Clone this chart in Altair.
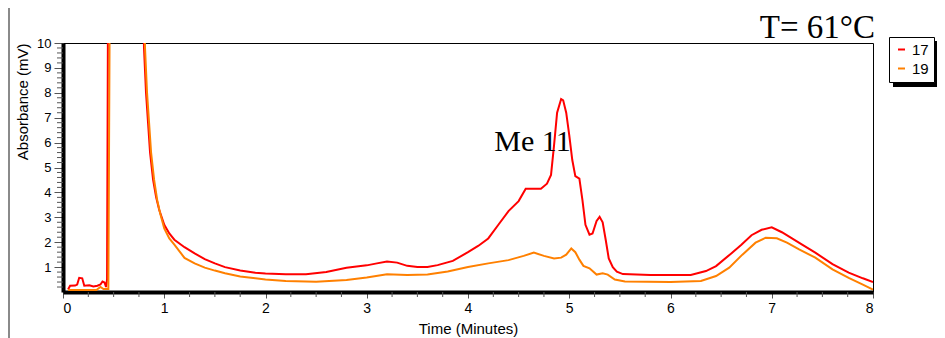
import altair as alt
import pandas as pd

# ---------------- data ----------------
red_t = [0.05, 0.07, 0.12, 0.14, 0.16, 0.19, 0.21, 0.26, 0.30, 0.34, 0.37, 0.39, 0.41, 0.425, 0.435, 0.445,
         0.79, 0.80, 0.82, 0.84, 0.86, 0.89, 0.92, 0.95, 1.0, 1.05, 1.1, 1.2, 1.3, 1.4, 1.5, 1.6, 1.75, 1.9,
         2.0, 2.2, 2.4, 2.6, 2.8, 2.9, 3.0, 3.1, 3.2, 3.3, 3.4, 3.5, 3.6, 3.7, 3.85, 4.0, 4.1, 4.2, 4.3, 4.4, 4.5,
         4.57, 4.65, 4.72, 4.78, 4.82, 4.85, 4.88, 4.92, 4.94, 4.97, 5.0, 5.03, 5.06, 5.1, 5.13, 5.16, 5.2,
         5.23, 5.27, 5.30, 5.33, 5.36, 5.39, 5.43, 5.47, 5.53, 5.8, 6.2, 6.35, 6.45, 6.6, 6.7, 6.8, 6.9, 7.0,
         7.1, 7.2, 7.3, 7.43, 7.6, 7.76, 7.9, 8.0]
red_v = [0.1, 0.25, 0.26, 0.3, 0.57, 0.55, 0.25, 0.27, 0.22, 0.25, 0.3, 0.42, 0.38, 0.2, 0.5, 12,
         12, 9.8, 8.0, 6.8, 5.6, 4.5, 3.8, 3.3, 2.7, 2.35, 2.1, 1.8, 1.55, 1.32, 1.15, 1.0, 0.86, 0.77,
         0.74, 0.71, 0.71, 0.8, 0.97, 1.02, 1.07, 1.15, 1.22, 1.18, 1.05, 1.0, 1.0, 1.08, 1.25, 1.6, 1.85, 2.15, 2.7, 3.25, 3.65,
         4.15, 4.15, 4.15, 4.35, 4.7, 5.9, 7.2, 7.75, 7.7, 7.2, 6.3, 5.3, 4.65, 4.55, 3.7, 2.7, 2.3,
         2.35, 2.85, 3.02, 2.8, 2.1, 1.35, 1.0, 0.82, 0.72, 0.68, 0.68, 0.84, 1.04, 1.55, 1.9, 2.28, 2.5, 2.6,
         2.4, 2.15, 1.9, 1.58, 1.12, 0.78, 0.55, 0.4]

orange_t = [0.05, 0.2, 0.33, 0.37, 0.40, 0.448, 0.462, 0.80, 0.81, 0.83, 0.85, 0.87, 0.9, 0.93, 0.96, 1.0,
            1.05, 1.1, 1.2, 1.3, 1.4, 1.5, 1.6, 1.75, 1.9, 2.0, 2.2, 2.5, 2.8, 3.0, 3.2, 3.4, 3.6, 3.8, 4.0,
            4.2, 4.4, 4.55, 4.65, 4.75, 4.85, 4.92, 4.97, 5.02, 5.06, 5.1, 5.14, 5.2, 5.27, 5.33, 5.38, 5.45,
            5.55, 6.0, 6.3, 6.45, 6.58, 6.71, 6.84, 6.94, 7.05, 7.15, 7.27, 7.43, 7.6, 7.76, 7.9, 8.0]
orange_v = [0.08, 0.08, 0.08, 0.2, 0.12, 0.12, 12, 12, 9.8, 8.0, 6.8, 5.6, 4.5, 3.7, 3.15, 2.55,
            2.15, 1.9, 1.37, 1.15, 0.98, 0.86, 0.75, 0.62, 0.55, 0.5, 0.44, 0.41, 0.48, 0.58, 0.71, 0.68, 0.7, 0.82, 1.0,
            1.15, 1.28, 1.45, 1.58, 1.45, 1.35, 1.38, 1.5, 1.75, 1.6, 1.3, 1.05, 0.95, 0.7, 0.75, 0.7, 0.5,
            0.42, 0.4, 0.44, 0.64, 0.98, 1.5, 1.98, 2.18, 2.16, 1.98, 1.71, 1.38, 0.91, 0.57, 0.3, 0.1]

series_names = ["17", "19"]
series_colors = ["#ff0000", "#ff8000"]

x_ticks = [0, 1, 2, 3, 4, 5, 6, 7, 8]
x_minor = [0.25, 0.5, 0.75, 1.25, 1.5, 1.75, 2.25, 2.5, 2.75, 3.25, 3.5, 3.75,
           4.25, 4.5, 4.75, 5.25, 5.5, 5.75, 6.25, 6.5, 6.75, 7.25, 7.5, 7.75]
y_ticks = [1, 2, 3, 4, 5, 6, 7, 8, 9, 10]
y_minor = [0.2, 0.4, 0.6, 0.8, 1.2, 1.4, 1.6, 1.8, 2.2, 2.4, 2.6, 2.8, 3.2, 3.4, 3.6, 3.8,
           4.2, 4.4, 4.6, 4.8, 5.2, 5.4, 5.6, 5.8, 6.2, 6.4, 6.6, 6.8, 7.2, 7.4, 7.6, 7.8,
           8.2, 8.4, 8.6, 8.8, 9.2, 9.4, 9.6, 9.8]

title_text = "T= 61°C"
annotation_text = ["Me 11"]
annotation_time = [4.26]
annotation_abs = [5.65]

# ---------------- build ----------------
df = pd.DataFrame({
    "Time": red_t + orange_t,
    "Abs": red_v + orange_v,
    "Series": ["17"] * len(red_t) + ["19"] * len(orange_t),
})

W, H = 810, 249
SANS = "Liberation Sans"
SERIF = "Liberation Serif"

xscale = alt.Scale(domain=[0, 8], nice=False, zero=False)
yscale = alt.Scale(domain=[0, 10], nice=False, zero=False)

x_axis = alt.Axis(
    values=x_ticks, format="d", title="Time (Minutes)", grid=False,
    tickSize=6, tickColor="#555", domainColor="black", domainWidth=4,
    labelFont=SANS, labelFontSize=14, labelColor="black", labelPadding=3,
    titleFont=SANS, titleFontSize=15, titleFontWeight="normal", titleColor="black",
    titlePadding=6)
y_axis = alt.Axis(
    values=y_ticks, format="d", title="Absorbance (mV)", grid=False,
    tickSize=9, tickColor="#555", domainColor="black", domainWidth=4,
    labelFont=SANS, labelFontSize=13, labelColor="black", labelPadding=3,
    titleFont=SANS, titleFontSize=15, titleFontWeight="normal", titleColor="black",
    titleAnchor="end", titlePadding=6)

LEG_X, LEG_Y = 826, -6

lines = alt.Chart(df).mark_line(clip=True, strokeWidth=2).encode(
    x=alt.X("Time:Q", scale=xscale, axis=x_axis),
    y=alt.Y("Abs:Q", scale=yscale, axis=y_axis),
    color=alt.Color("Series:N", scale=alt.Scale(domain=series_names, range=series_colors),
                    legend=alt.Legend(title=None, orient="none", legendX=LEG_X, legendY=LEG_Y,
                                      symbolType="stroke", symbolStrokeWidth=2, symbolSize=49,
                                      labelFont=SANS, labelFontSize=15, labelColor="black",
                                      labelOffset=3, padding=5, rowPadding=3,
                                      strokeColor="black", fillColor="white")),
)

one = pd.DataFrame({"d": [0]})

y_minor_rules = alt.Chart(pd.DataFrame({"Abs": y_minor})).mark_rule(color="#555", strokeWidth=1).encode(
    y=alt.Y("Abs:Q", scale=yscale, axis=y_axis), x=alt.value(0), x2=alt.value(-6))
x_minor_rules = alt.Chart(pd.DataFrame({"Time": x_minor})).mark_rule(color="#555", strokeWidth=1).encode(
    x=alt.X("Time:Q", scale=xscale, axis=x_axis), y=alt.value(H), y2=alt.value(H + 5))

annot = alt.Chart(pd.DataFrame({"Time": annotation_time, "Abs": annotation_abs, "label": annotation_text})
                  ).mark_text(font=SERIF, fontSize=30, align="left", baseline="alphabetic",
                              color="black").encode(
    x=alt.X("Time:Q", scale=xscale, axis=x_axis), y=alt.Y("Abs:Q", scale=yscale, axis=y_axis),
    text="label:N")

shadow = alt.Chart(one).mark_rect(color="black").encode(
    x=alt.value(LEG_X + 4), x2=alt.value(LEG_X + 49), y=alt.value(LEG_Y + 4), y2=alt.value(LEG_Y + 50))

left_line = alt.Chart(one).mark_rule(color="#8a8a8a", strokeWidth=2).encode(
    x=alt.value(-54), y=alt.value(-40), y2=alt.value(300))

title = alt.Chart(one).mark_text(font=SERIF, fontSize=33, align="right", baseline="alphabetic",
                                 color="black").encode(
    x=alt.value(W + 2), y=alt.value(-5.5), text=alt.value(title_text))

chart = alt.layer(lines, y_minor_rules, x_minor_rules, annot, left_line, shadow, title).properties(
    width=W, height=H,
    autosize=alt.AutoSizeParams(type="none"),
    padding={"left": 55, "top": 35, "right": 64, "bottom": 46},
    background="white",
).configure_view(stroke="black", strokeWidth=1)

chart.save("out.html", embed_options={"renderer": "svg", "actions": False})
